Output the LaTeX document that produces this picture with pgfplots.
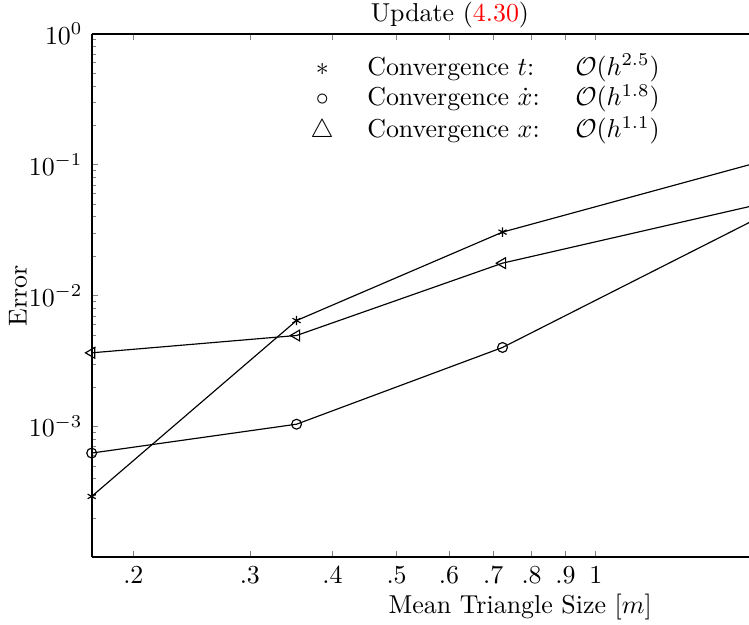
\documentclass[border=0pt]{standalone}
\usepackage{xcolor}
\usepackage{pgfplots}
\pgfplotsset{compat=1.18}
\usetikzlibrary{calc}

% errors vs. mean triangle size; last row lies past xmax and is clipped
\pgfplotstableread{
h      err
0.173  2.92e-4
0.353  6.44e-3
0.723  3.05e-2
2.0    0.124
}\convt
\pgfplotstableread{
h      err
0.173  6.26e-4
0.353  1.04e-3
0.723  4.01e-3
2.0    0.0542
}\convxdot
\pgfplotstableread{
h      err
0.173  3.65e-3
0.353  4.95e-3
0.723  1.767e-2
2.0    0.0574
}\convx

\begin{document}
\begin{tikzpicture}
\begin{axis}[
    scale only axis,
    width=253.8pt,
    height=202.2pt,
    xmode=log, ymode=log,
    xmin=0.173, xmax=1.705,
    ymin=1e-4, ymax=1,
    axis x line*=box,
    axis y line*=left,
    axis line style={line width=0.7pt},
    tick align=inside,
    major tick length=2.6pt,
    minor tick length=1.5pt,
    xtick={0.2,0.3,0.4,0.5,0.6,0.7,0.8,0.9,1},
    xticklabels={$.2$,$.3$,$.4$,$.5$,$.6$,$.7$,$.8$,$.9$,$1$},
    xminorticks=false,
    ytick={1e-3,1e-2,1e-1,1},
    minor ytick={2e-4,3e-4,4e-4,5e-4,6e-4,7e-4,8e-4,9e-4,
                 2e-3,3e-3,4e-3,5e-3,6e-3,7e-3,8e-3,9e-3,
                 2e-2,3e-2,4e-2,5e-2,6e-2,7e-2,8e-2,9e-2,
                 2e-1,3e-1,4e-1,5e-1,6e-1,7e-1,8e-1,9e-1},
    title={Update (\textcolor{red}{4.30})},
    every axis title shift=0pt,
    title style={at={(axis description cs:0.545,1)}, anchor=base, yshift=4.6pt},
    xlabel={Mean Triangle Size [$m$]},
    xlabel style={at={(axis description cs:0.652,0)}, anchor=base, yshift=-21.5pt},
    ylabel={Error},
    ylabel style={at={(axis description cs:-0.112,0.5)}, anchor=center, rotate=0},
    every axis plot/.append style={black, line width=0.45pt, mark indices={1,2,3}},
]
\addplot[mark=asterisk, mark size=1.8pt] table[x=h, y=err] {\convt};
\addplot[mark=o, mark size=1.9pt] table[x=h, y=err] {\convxdot};
\addplot[mark=triangle, mark size=2.4pt, mark options={rotate=90}] table[x=h, y=err] {\convx};

\node[anchor=base west, inner sep=0pt] at (axis description cs:0.350,0.921)
  {\makebox[0pt][c]{$\ast$}\hspace{17.4pt}\makebox[80.3pt][l]{Convergence $t$:}$\mathcal{O}(h^{2.5})$};
\node[anchor=base west, inner sep=0pt] at (axis description cs:0.350,0.862)
  {\makebox[0pt][c]{$\circ$}\hspace{17.4pt}\makebox[80.3pt][l]{Convergence $\dot{x}$:}$\mathcal{O}(h^{1.8})$};
\node[anchor=base west, inner sep=0pt] at (axis description cs:0.350,0.801)
  {\makebox[0pt][c]{$\triangle$}\hspace{17.4pt}\makebox[80.3pt][l]{Convergence $x$:}$\mathcal{O}(h^{1.1})$};

\coordinate (bl) at (rel axis cs:0,0);
\coordinate (tr) at (rel axis cs:1,1);
\end{axis}
\pgfresetboundingbox
\path[use as bounding box] ($(bl)+(-35.4pt,-26.1pt)$) rectangle ($(tr)+(0pt,13.0pt)$);
\end{tikzpicture}
\end{document}
